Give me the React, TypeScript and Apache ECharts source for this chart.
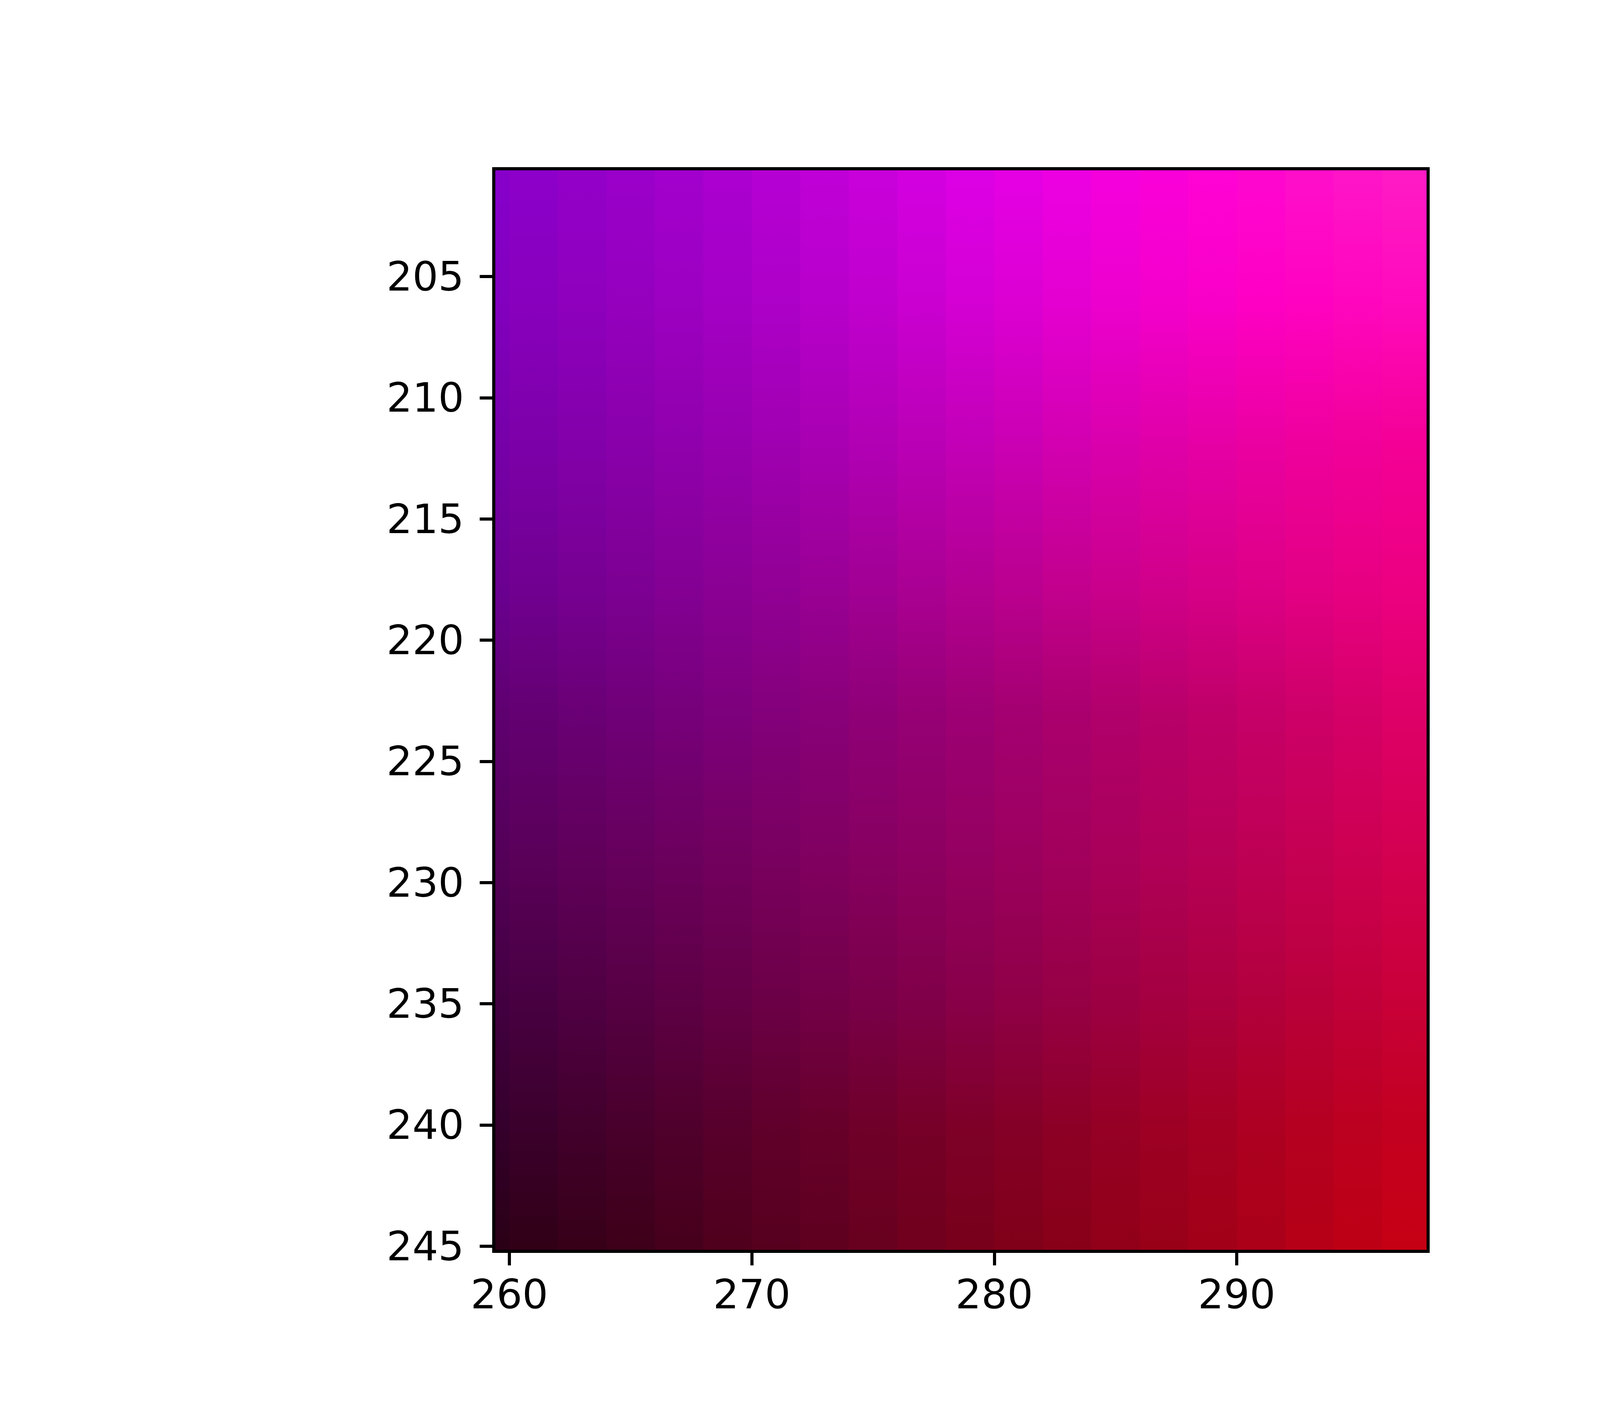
import React, { useEffect, useRef } from "react";
import * as echarts from "echarts";

// Tick labels
const xTickLabels = [260, 270, 280, 290];
const yTickLabels = [205, 210, 215, 220, 225, 230, 235, 240, 245];

// Visible window of the image (y is inverted: 200.55 at top)
const xLimits = [259.356, 297.894];
const yLimits = [200.553, 245.213];

// Image extent (rows centred on integers)
const imageTop = 200.5;
const imageBottom = 245.5;

// Column strips (each 2 units wide), centres
const stripCenters = [259, 261, 263, 265, 267, 269, 271, 273, 275, 277, 279, 281, 283, 285, 287, 289, 291, 293, 295, 297];

// Rows at which colours were read
const sampleRows = [201, 206, 212, 218, 223, 229, 235, 240, 245];

const row201 = ["#8600ca", "#8c00c9", "#9300c8", "#9a00c9", "#a200cc", "#ab00d0", "#b500d3", "#bf00d6", "#c800da", "#d200df", "#dc00e4", "#e400e3", "#ec00e1", "#f400dd", "#fa00d8", "#ff02d4", "#ff06cf", "#ff0eca", "#ff14c7", "#ff1ac5"];
const row206 = ["#8200be", "#8800bd", "#8e00bd", "#9500be", "#9c00c1", "#a400c5", "#ad00c8", "#b700cb", "#c000ce", "#ca00d1", "#d400d4", "#dc00d3", "#e400d1", "#ec00ce", "#f300cb", "#f900c8", "#fe00c4", "#ff02c1", "#ff06be", "#ff0abc"];
const row212 = ["#7600a8", "#7c00a8", "#8200a9", "#8900aa", "#9000ac", "#9700ae", "#9f00b0", "#a800b2", "#b100b4", "#ba00b5", "#c200b6", "#ca00b3", "#d200b0", "#d900ac", "#df00a8", "#e500a4", "#ea00a0", "#ee009c", "#f10099", "#f40096"];
const row218 = ["#6a0090", "#700090", "#760091", "#7c0092", "#830093", "#8a0093", "#910094", "#990094", "#a10093", "#aa0092", "#b20091", "#ba008f", "#c2008d", "#c9008b", "#d00089", "#d60087", "#dc0085", "#e20083", "#e70081", "#ec0080"];
const row223 = ["#5f0070", "#640072", "#6a0075", "#700078", "#76007a", "#7d007c", "#83007b", "#890079", "#8f0077", "#960075", "#9d0074", "#a40071", "#aa006e", "#b1006b", "#b80069", "#bf0068", "#c60068", "#cd0068", "#d50068", "#de0068"];
const row229 = ["#540058", "#5a0059", "#60005a", "#66005c", "#6c005d", "#72005e", "#79005f", "#800060", "#870060", "#8d0060", "#940060", "#9b005e", "#a2005c", "#a9005a", "#b00058", "#b70056", "#be0054", "#c50052", "#cc0051", "#d30050"];
const row235 = ["#420040", "#480041", "#4f0042", "#560043", "#5d0044", "#640045", "#6b0046", "#720047", "#790048", "#800048", "#880048", "#8f0046", "#960044", "#9d0042", "#a40040", "#ab003e", "#b2003c", "#b9003a", "#c00039", "#c80038"];
const row240 = ["#34002c", "#3b002c", "#42002c", "#49002c", "#50002c", "#58002c", "#60002b", "#67002a", "#6f0029", "#760028", "#7e0028", "#850027", "#8d0026", "#950025", "#9d0024", "#a50023", "#ad0022", "#b50021", "#bc0020", "#c30020"];
const row245 = ["#2a0016", "#310017", "#370018", "#3e0019", "#46001b", "#4f001c", "#57001e", "#5f001f", "#68001f", "#70001d", "#78001b", "#800019", "#880018", "#910018", "#990018", "#a20018", "#ab0018", "#b50017", "#be0015", "#c60014"];

const rowsByY = [row201, row206, row212, row218, row223, row229, row235, row240, row245];

const FONT = "DejaVu Sans";
const spine = { color: "#000000", width: 8, cap: "square" as const };

export default function App() {
  const ref = useRef<HTMLDivElement>(null);

  useEffect(() => {
    document.body.style.margin = "0";
    const chart = echarts.init(ref.current!, null, { renderer: "svg" });
    const labelStyle = { fontSize: 104, fontFamily: FONT, color: "#000000" };

    chart.setOption({
      animation: false,
      backgroundColor: "#ffffff",
      grid: { left: 1264, top: 432, width: 2392, height: 2772, containLabel: false },
      xAxis: [
        {
          type: "value",
          position: "bottom",
          min: xLimits[0],
          max: xLimits[1],
          z: 10,
          splitLine: { show: false },
          axisLine: { show: true, onZero: false, lineStyle: spine },
          axisTick: { show: true, length: 36, customValues: xTickLabels, lineStyle: { color: "#000000", width: 8 } },
          axisLabel: { show: true, customValues: xTickLabels, margin: 58, ...labelStyle },
        },
        {
          type: "value",
          position: "top",
          min: xLimits[0],
          max: xLimits[1],
          z: 10,
          splitLine: { show: false },
          axisLine: { show: true, onZero: false, lineStyle: spine },
          axisTick: { show: false },
          axisLabel: { show: false },
        },
      ],
      yAxis: [
        {
          type: "value",
          position: "left",
          inverse: true,
          min: yLimits[0],
          max: yLimits[1],
          z: 10,
          splitLine: { show: false },
          axisLine: { show: true, onZero: false, lineStyle: spine },
          axisTick: { show: true, length: 36, customValues: yTickLabels, lineStyle: { color: "#000000", width: 8 } },
          axisLabel: { show: true, customValues: yTickLabels, margin: 76, ...labelStyle },
        },
        {
          type: "value",
          position: "right",
          inverse: true,
          min: yLimits[0],
          max: yLimits[1],
          z: 10,
          splitLine: { show: false },
          axisLine: { show: true, onZero: false, lineStyle: spine },
          axisTick: { show: false },
          axisLabel: { show: false },
        },
      ],
      series: [
        {
          type: "custom",
          xAxisIndex: 0,
          yAxisIndex: 0,
          clip: true,
          silent: true,
          z: 2,
          data: stripCenters.map((x) => [x, (imageTop + imageBottom) / 2]),
          renderItem: (params: any, api: any) => {
            const i = params.dataIndex;
            const xc = api.value(0);
            const p0 = api.coord([xc - 1, imageTop]);
            const p1 = api.coord([xc + 1, imageBottom]);
            const span = imageBottom - imageTop;
            const stops = sampleRows.map((y, j) => ({
              offset: (y - imageTop) / span,
              color: rowsByY[j][i],
            }));
            return {
              type: "rect",
              shape: { x: p0[0], y: p0[1], width: p1[0] - p0[0] + 1, height: p1[1] - p0[1] },
              style: {
                fill: new echarts.graphic.LinearGradient(0, 0, 0, 1, stops),
                stroke: null,
              },
            };
          },
        },
      ],
    });

    return () => chart.dispose();
  }, []);

  return (
    <div
      ref={ref}
      style={{ position: "fixed", left: 0, top: 0, width: 4800, height: 3600, background: "#ffffff" }}
    />
  );
}
